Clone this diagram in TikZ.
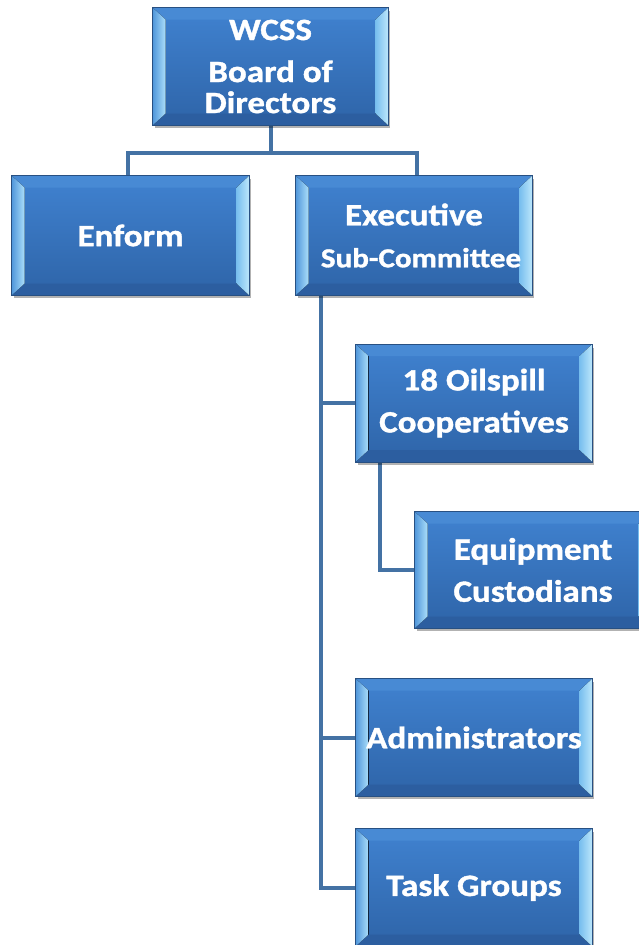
\documentclass[tikz,border=0pt]{standalone}
\usepackage{fontspec}
\newfontfamily\boxfont{Carlito}[FakeStretch=1.13,FakeBold=1.2]
\usetikzlibrary{calc,shadows,backgrounds}
\definecolor{linec}{RGB}{68,114,164}
\definecolor{btop}{RGB}{64,130,208}
\definecolor{bbot}{RGB}{46,100,168}
\definecolor{boxedge}{RGB}{40,80,130}
\definecolor{bevL1}{RGB}{80,150,218}
\definecolor{bevL2}{RGB}{170,222,250}
\definecolor{bevR1}{RGB}{120,190,238}
\definecolor{bevR2}{RGB}{190,232,252}
\definecolor{bevT}{RGB}{72,138,212}
\definecolor{bevB}{RGB}{44,94,160}
\tikzset{
  bbox/.style={draw=boxedge, line width=1pt, top color=btop, bottom color=bbot,
    inner sep=0pt, drop shadow={shadow xshift=2pt, shadow yshift=-3pt, opacity=0.3, fill=black}},
  btext/.style={text=white, font={\boxfont\bfseries\fontsize{31}{42}\selectfont}, align=center, inner sep=0pt},
  conn/.style={draw=linec, line width=4pt, line join=miter},
}
\newcommand\bevels[1]{%
  \fill[bevT] (#1.north west) -- ($(#1.north west)+(13,12)$) -- ($(#1.north east)+(-13,12)$) -- (#1.north east) -- cycle;
  \fill[bevB] (#1.south west) -- ($(#1.south west)+(13,-12)$) -- ($(#1.south east)+(-13,-12)$) -- (#1.south east) -- cycle;
  \fill[left color=bevL1, right color=bevL2] (#1.north west) -- ($(#1.north west)+(13,12)$) -- ($(#1.south west)+(13,-12)$) -- (#1.south west) -- cycle;
  \fill[left color=bevR1, right color=bevR2] (#1.north east) -- ($(#1.north east)+(-13,12)$) -- ($(#1.south east)+(-13,-12)$) -- (#1.south east) -- cycle;
  \draw[boxedge, line width=1pt] (#1.north west) rectangle (#1.south east);
}
\newcommand\bevbox[5]{%
  \node[bbox, minimum width=#3, minimum height=#4] (#1) at (#2) {};
  \bevels{#1}
  \node[btext] (#1-t) at (#1.center) {#5};
}
\begin{document}
\begin{tikzpicture}[x=1pt,y=-1pt]
\useasboundingbox (0,0) rectangle (639,945);
\clip (0,0) rectangle (639,945);
\path (270.5,66.5) coordinate (cw) (130.5,235.5) coordinate (ce) (414,235.5) coordinate (cx)
      (474,403) coordinate (co) (533,570) coordinate (cq) (474,737.5) coordinate (ca) (474,887.5) coordinate (ct);
\bevbox{wcss}{cw}{235pt}{117pt}{WCSS\\Board of\\[-11pt]Directors}
\bevbox{enform}{ce}{237pt}{119pt}{Enform}
\bevbox{exec}{cx}{236pt}{119pt}{Executive\\\hspace*{14pt}{\fontsize{27.5}{27.5}\selectfont Sub-Committee}}
\bevbox{oil}{co}{236pt}{117pt}{18 Oilspill\\Cooperatives}
\bevbox{equip}{cq}{236pt}{116pt}{Equipment\\Custodians}
\bevbox{admin}{ca}{236pt}{117pt}{Administrators}
\bevbox{task}{ct}{236pt}{117pt}{Task Groups}
\begin{scope}[on background layer]
\fill[white] (0,0) rectangle (639,945);
\coordinate (j1) at ($(wcss.south)+(0,27)$);
\draw[conn] (wcss.south) -- (j1) -| ($(enform.north)+(-3,0)$);
\draw[conn] (j1) -| ($(exec.north)+(3,0)$);
\coordinate (e0) at ($(exec.south west)+(25,0)$);
\draw[conn] (e0) |- (task.west);
\draw[conn] (e0) |- (oil.west);
\draw[conn] (e0) |- (admin.west);
\coordinate (o0) at ($(oil.south west)+(24,0)$);
\draw[conn] (o0) |- (equip.west);
\end{scope}
\end{tikzpicture}
\end{document}
